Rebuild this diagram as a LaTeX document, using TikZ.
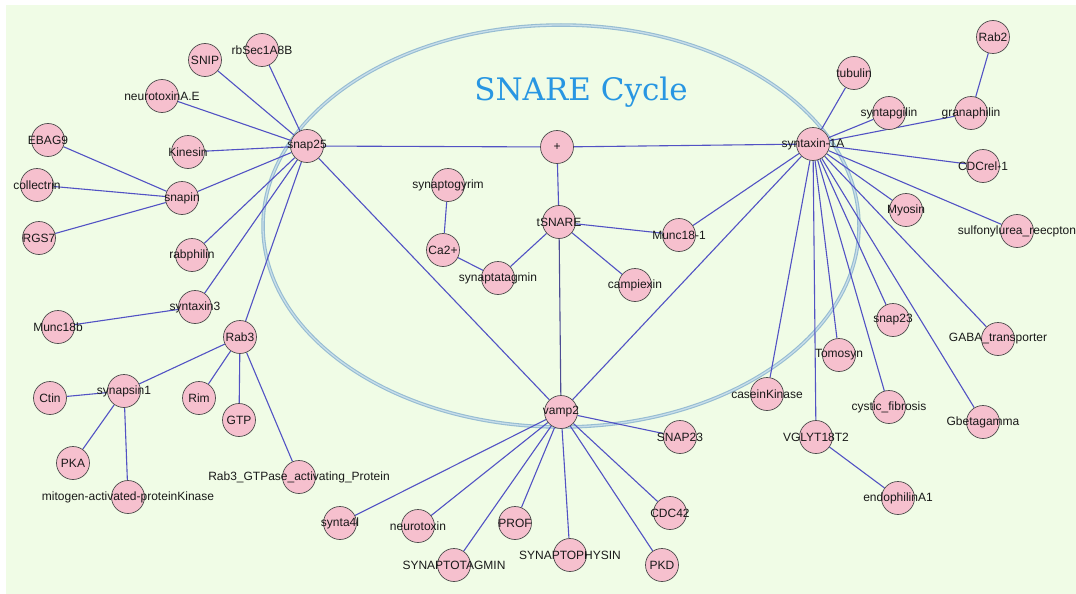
\documentclass[tikz,border=0pt]{standalone}
\usepackage{fontspec}
\setmainfont{Liberation Sans}
\newfontfamily\titlefont{DejaVu Serif}
\usepackage{xcolor}
\usetikzlibrary{backgrounds}

\definecolor{bggreen}{RGB}{240,252,230}
\definecolor{protpink}{RGB}{246,192,206}
\definecolor{edgeblue}{RGB}{82,82,196}
\definecolor{ringblue}{RGB}{150,188,210}
\definecolor{ringlight}{RGB}{200,222,234}
\definecolor{titleblue}{RGB}{40,150,226}

\tikzset{
  prot/.style={circle, draw=black!70, fill=protpink, line width=0.7pt,
    minimum size=33pt, inner sep=0pt},
  every label/.style={font=\fontsize{12}{14}\selectfont, text=black!90, inner sep=0pt},
  edge/.style={draw=edgeblue, line width=1.1pt},
  darkedge/.style={draw=black!60!blue!70, line width=1.1pt}
}

\begin{document}
\begin{tikzpicture}[x=1pt,y=-1pt]
\useasboundingbox (0,0) rectangle (1076,594);

% Title
\node[font=\titlefont\fontsize{31}{36}\selectfont, text=titleblue, anchor=base] (title) at (581,100) {SNARE Cycle};

% snap25 side
\node[prot, label=center:snap25] (snap25) at (307,146) {};
\node[prot, label=center:SNIP] (SNIP) at (205,60) {};
\node[prot, label=center:rbSec1A8B] (rbSec) at (262,50) {};
\node[prot, label=center:neurotoxinA.E] (neuroAE) at (162,96) {};
\node[prot, label=center:EBAG9] (EBAG9) at (48,140) {};
\node[prot, label=center:Kinesin] (Kinesin) at (188,152) {};
\node[prot, label=center:collectrin] (collectrin) at (37,185) {};
\node[prot, label=center:snapin] (snapin) at (182,198) {};
\node[prot, label=center:RGS7] (RGS7) at (39,238) {};
\node[prot, label=center:rabphilin] (rabphilin) at (192,255) {};
\node[prot, label=center:syntaxin3] (syntaxin3) at (195,307) {};
\node[prot, label=center:Munc18b] (Munc18b) at (58,327) {};
\node[prot, label=center:Rab3] (Rab3) at (240,337) {};
\node[prot, label=center:synapsin1] (synapsin1) at (124,391) {};
\node[prot, label=center:Ctin] (Ctin) at (50,398) {};
\node[prot, label=center:Rim] (Rim) at (199,398) {};
\node[prot, label=center:GTP] (GTP) at (239,420) {};
\node[prot, label=center:PKA] (PKA) at (73,463) {};
\node[prot, label=center:mitogen-activated-proteinKinase] (MAPK) at (128,497) {};
\node[prot, label={center:Rab3\_GTPase\_activating\_Protein}] (RabGAP) at (299,477) {};

% centre of the cycle
\node[prot, label=center:+] (plus) at (557,147) {};
\node[prot, label=center:synaptogyrim] (synaptogyrim) at (448,185) {};
\node[prot, label=center:tSNARE] (tSNARE) at (559,222) {};
\node[prot, label=center:Munc18-1] (Munc181) at (679,235) {};
\node[prot, label=center:Ca2+] (Ca) at (443,250) {};
\node[prot, label=center:synaptatagmin] (synaptatagmin) at (498,278) {};
\node[prot, label=center:campiexin] (campiexin) at (635,285) {};

% vamp2 side
\node[prot, label=center:vamp2] (vamp2) at (561,412) {};
\node[prot, label=center:SNAP23] (SNAP23) at (680,437) {};
\node[prot, label=center:synta4l] (synta4l) at (340,523) {};
\node[prot, label=center:neurotoxin] (neurotoxin) at (418,526) {};
\node[prot, label=center:PROF] (PROF) at (515,523) {};
\node[prot, label=center:CDC42] (CDC42) at (670,513) {};
\node[prot, label=center:SYNAPTOTAGMIN] (SYNAPTOTAGMIN) at (454,565) {};
\node[prot, label=center:SYNAPTOPHYSIN] (SYNAPTOPHYSIN) at (570,555) {};
\node[prot, label=center:PKD] (PKD) at (662,565) {};

% syntaxin-1A side
\node[prot, label=center:syntaxin-1A] (syntaxin1A) at (813,144) {};
\node[prot, label=center:Rab2] (Rab2) at (993,37) {};
\node[prot, label=center:tubulin] (tubulin) at (854,73) {};
\node[prot, label=center:syntapgilin] (syntapgilin) at (889,113) {};
\node[prot, label=center:granaphilin] (granaphilin) at (971,113) {};
\node[prot, label=center:CDCrel-1] (CDCrel1) at (983,166) {};
\node[prot, label=center:Myosin] (Myosin) at (906,210) {};
\node[prot, label={center:sulfonylurea\_reecpton}] (sulfonylurea) at (1017,231) {};
\node[prot, label=center:snap23] (snap23) at (893,320) {};
\node[prot, label={center:GABA\_transporter}] (GABA) at (998,339) {};
\node[prot, label=center:Tomosyn] (Tomosyn) at (839,355) {};
\node[prot, label=center:caseinKinase] (caseinKinase) at (767,394) {};
\node[prot, label={center:cystic\_fibrosis}] (cysticfib) at (889,407) {};
\node[prot, label=center:Gbetagamma] (Gbetagamma) at (983,422) {};
\node[prot, label=center:VGLYT18T2] (VGLYT) at (816,437) {};
\node[prot, label=center:endophilinA1] (endophilinA1) at (898,498) {};

\begin{scope}[on background layer]
% Background and cycle ring
\fill[white] (0,0) rectangle (1076,594);
\fill[bggreen] (6,5) rectangle (1076,594);
\draw[draw=ringblue, line width=1.1pt, double=ringlight, double distance=1.3pt] (561,226) ellipse [x radius=298, y radius=201];

% snap25 links
\draw[edge] (snap25) -- (SNIP);
\draw[edge] (snap25) -- (rbSec);
\draw[edge] (snap25) -- (neuroAE);
\draw[edge] (snap25) -- (Kinesin);
\draw[edge] (snap25) -- (snapin);
\draw[edge] (snap25) -- (rabphilin);
\draw[edge] (snap25) -- (syntaxin3);
\draw[edge] (snap25) -- (Rab3);
\draw[edge] (snap25) -- (plus);
\draw[edge] (snap25) -- (vamp2);
\draw[edge] (snapin) -- (EBAG9);
\draw[edge] (snapin) -- (collectrin);
\draw[edge] (snapin) -- (RGS7);
\draw[edge] (syntaxin3) -- (Munc18b);
\draw[edge] (Rab3) -- (synapsin1);
\draw[edge] (Rab3) -- (Rim);
\draw[edge] (Rab3) -- (GTP);
\draw[edge] (Rab3) -- (RabGAP);
\draw[edge] (synapsin1) -- (Ctin);
\draw[edge] (synapsin1) -- (PKA);
\draw[edge] (synapsin1) -- (MAPK);

% centre links
\draw[edge] (plus) -- (syntaxin1A);
\draw[edge] (plus) -- (tSNARE);
\draw[edge] (tSNARE) -- (synaptatagmin);
\draw[edge] (tSNARE) -- (Munc181);
\draw[edge] (tSNARE) -- (campiexin);
\draw[darkedge] (tSNARE) -- (vamp2);
\draw[edge] (synaptogyrim) -- (Ca);
\draw[edge] (Ca) -- (synaptatagmin);
\draw[edge] (Munc181) -- (syntaxin1A);

% vamp2 links
\draw[edge] (vamp2) -- (syntaxin1A);
\draw[edge] (vamp2) -- (SNAP23);
\draw[edge] (vamp2) -- (synta4l);
\draw[edge] (vamp2) -- (neurotoxin);
\draw[edge] (vamp2) -- (SYNAPTOTAGMIN);
\draw[edge] (vamp2) -- (PROF);
\draw[edge] (vamp2) -- (SYNAPTOPHYSIN);
\draw[edge] (vamp2) -- (PKD);
\draw[edge] (vamp2) -- (CDC42);

% syntaxin-1A links
\draw[edge] (syntaxin1A) -- (tubulin);
\draw[edge] (syntaxin1A) -- (syntapgilin);
\draw[edge] (syntaxin1A) -- (granaphilin);
\draw[edge] (syntaxin1A) -- (CDCrel1);
\draw[edge] (syntaxin1A) -- (Myosin);
\draw[edge] (syntaxin1A) -- (sulfonylurea);
\draw[edge] (syntaxin1A) -- (GABA);
\draw[edge] (syntaxin1A) -- (Gbetagamma);
\draw[edge] (syntaxin1A) -- (cysticfib);
\draw[edge] (syntaxin1A) -- (snap23);
\draw[edge] (syntaxin1A) -- (Tomosyn);
\draw[edge] (syntaxin1A) -- (VGLYT);
\draw[edge] (syntaxin1A) -- (caseinKinase);
\draw[edge] (granaphilin) -- (Rab2);
\draw[edge] (VGLYT) -- (endophilinA1);
\end{scope}

\end{tikzpicture}
\end{document}
